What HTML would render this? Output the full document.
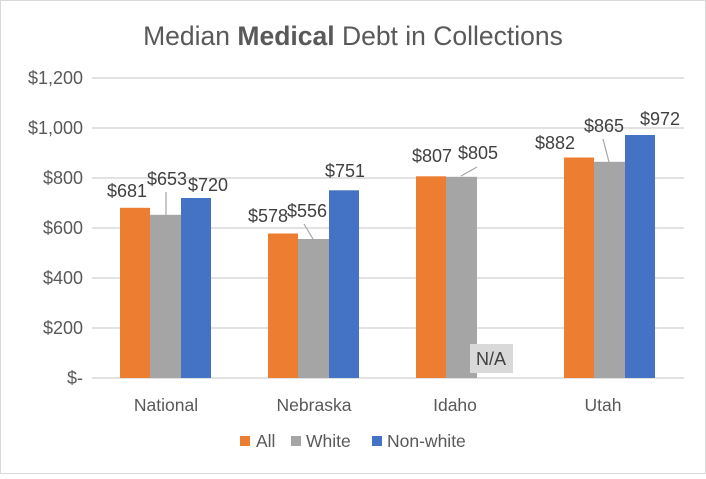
<!DOCTYPE html><html><head><meta charset="utf-8"><style>body{margin:0;background:#fff}</style></head><body>
<svg width="706" height="474" viewBox="0 0 706 474" xmlns="http://www.w3.org/2000/svg" font-family="Liberation Sans, sans-serif">
<rect x="0.5" y="0.5" width="705" height="473" fill="#fff" stroke="#d9d9d9"/>
<text x="353" y="45" text-anchor="middle" font-size="26.5" fill="#595959">Median <tspan font-weight="bold">Medical</tspan> Debt in Collections</text>
<g stroke="#d9d9d9" stroke-width="1.5">
<line x1="92" x2="684" y1="78" y2="78"/><line x1="92" x2="684" y1="128" y2="128"/><line x1="92" x2="684" y1="178" y2="178"/><line x1="92" x2="684" y1="228" y2="228"/><line x1="92" x2="684" y1="278" y2="278"/><line x1="92" x2="684" y1="328" y2="328"/><line x1="92" x2="684" y1="378" y2="378"/>
</g>
<g font-size="18" fill="#595959" text-anchor="end">
<text x="83" y="84">$1,200</text><text x="83" y="134">$1,000</text><text x="83" y="184">$800</text><text x="83" y="234">$600</text><text x="83" y="284">$400</text><text x="83" y="334">$200</text><text x="83" y="384">$-</text>
</g>
<g>
<rect x="120" y="207.8" width="30" height="170.2" fill="#ed7d31"/><rect x="150" y="214.8" width="31" height="163.2" fill="#a5a5a5"/><rect x="181" y="198" width="30" height="180" fill="#4472c4"/>
<rect x="268" y="233.5" width="30" height="144.5" fill="#ed7d31"/><rect x="298" y="239" width="31" height="139" fill="#a5a5a5"/><rect x="329" y="190.3" width="30" height="187.7" fill="#4472c4"/>
<rect x="416" y="176.3" width="30" height="201.7" fill="#ed7d31"/><rect x="446" y="176.8" width="31" height="201.2" fill="#a5a5a5"/>
<rect x="564" y="157.5" width="30" height="220.5" fill="#ed7d31"/><rect x="594" y="161.8" width="31" height="216.2" fill="#a5a5a5"/><rect x="625" y="135" width="30" height="243" fill="#4472c4"/>
</g>
<g stroke="#a5a5a5" stroke-width="1.2">
<line x1="166" y1="192" x2="166" y2="215"/><line x1="304" y1="224" x2="313" y2="239"/><line x1="461" y1="176" x2="477" y2="167"/><line x1="603" y1="139" x2="609" y2="162"/>
</g>
<rect x="470" y="344" width="43" height="29" fill="#d9d9d9"/>
<g font-size="18" fill="#404040" text-anchor="middle">
<text x="127" y="197">$681</text><text x="167" y="185">$653</text><text x="208" y="191">$720</text>
<text x="268" y="222">$578</text><text x="307" y="217">$556</text><text x="345" y="177">$751</text>
<text x="432" y="162">$807</text><text x="478" y="159">$805</text>
<text x="555" y="149">$882</text><text x="604" y="132">$865</text><text x="660" y="125">$972</text>
<text x="491" y="365">N/A</text>
</g>
<g font-size="17.5" fill="#595959" text-anchor="middle">
<text x="166" y="411">National</text><text x="314" y="411">Nebraska</text><text x="455" y="411">Idaho</text><text x="603" y="411">Utah</text>
</g>
<g font-size="17.5" fill="#595959">
<rect x="240" y="436" width="10" height="10" fill="#ed7d31"/><text x="256" y="447">All</text>
<rect x="291" y="436" width="10" height="10" fill="#a5a5a5"/><text x="306" y="447">White</text>
<rect x="372" y="436" width="10" height="10" fill="#4472c4"/><text x="387" y="447">Non-white</text>
</g>
</svg>
</body></html>
